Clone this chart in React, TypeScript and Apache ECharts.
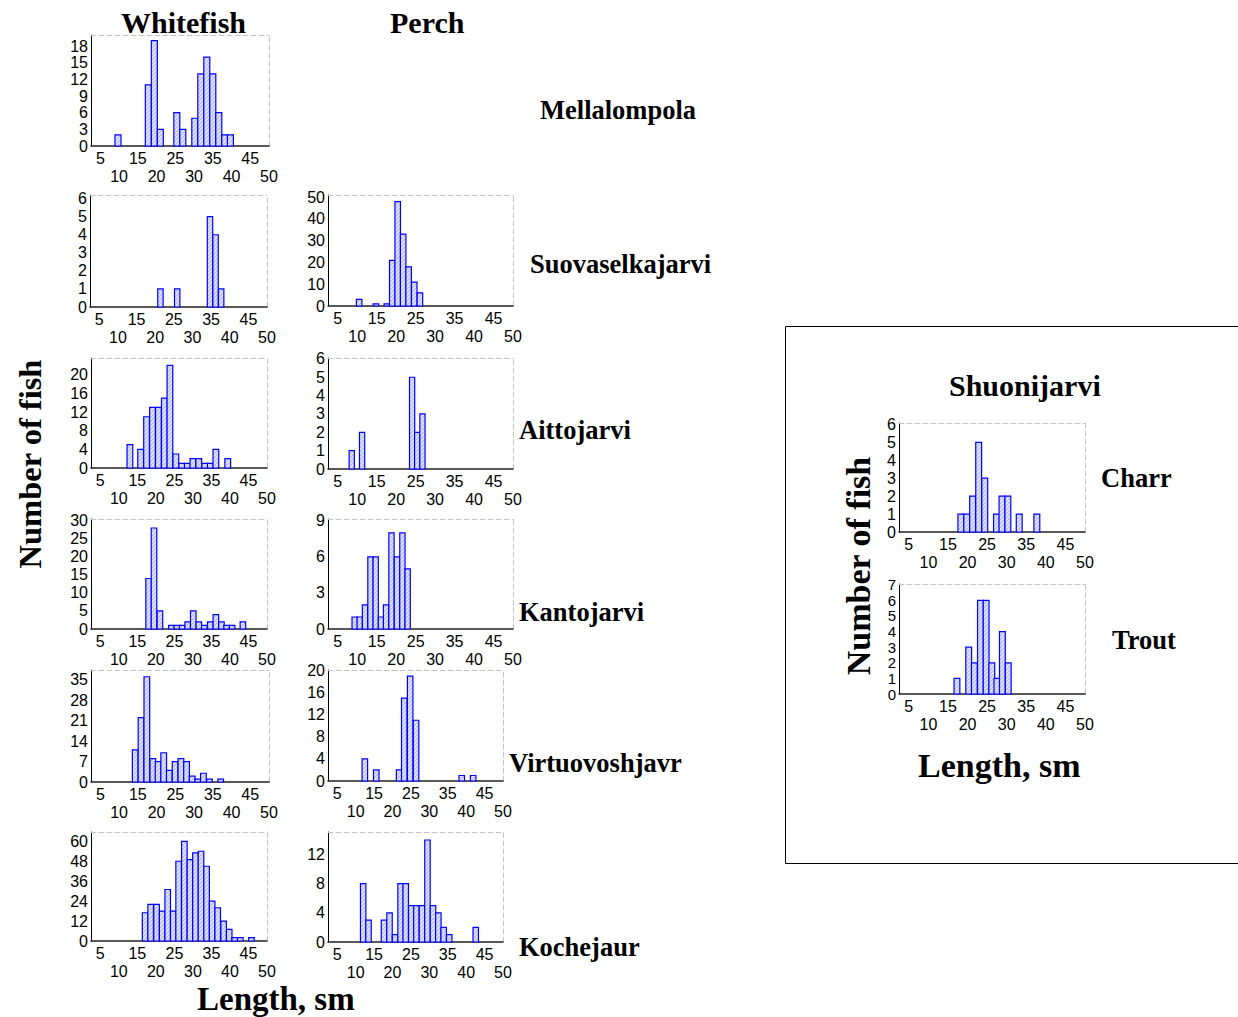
import React, { useEffect, useRef } from 'react';
import * as echarts from 'echarts';

// Length (bar centre, sm) and count per bar for every lake / species panel
const whitefishMellalompolaLength = [9.7, 17.8, 19.4, 21.0, 25.4, 27.0, 30.2, 31.8, 33.4, 35.0, 36.6, 38.2, 39.7];
const whitefishMellalompolaCount = [2, 11, 19, 3, 6, 3, 5, 13, 16, 13, 6, 2, 2];

const whitefishSuovaselkajarviLength = [21.4, 25.9, 34.7, 36.2, 37.7];
const whitefishSuovaselkajarviCount = [1, 1, 5, 4, 1];

const perchSuovaselkajarviLength = [10.5, 14.8, 17.6, 19.0, 20.4, 21.8, 23.2, 24.65, 26.1];
const perchSuovaselkajarviCount = [3, 1, 1, 21, 48, 33, 18, 11, 6];

const whitefishAittojarviLength = [13.0, 15.9, 17.5, 19.1, 20.7, 22.3, 23.8, 25.4, 27.0, 28.5, 30.0, 31.6, 33.2, 34.7, 36.2, 39.4];
const whitefishAittojarviCount = [5, 4, 11, 13, 13, 15, 22, 3, 1, 1, 2, 2, 1, 1, 4, 2];

const perchAittojarviLength = [8.6, 11.25, 24.1, 25.4, 26.75];
const perchAittojarviCount = [1, 2, 5, 2, 3];

const whitefishKantojarviLength = [18.05, 19.5, 21.1, 24.2, 25.7, 27.1, 28.6, 30.1, 31.6, 33.1, 34.7, 36.2, 37.7, 39.1, 40.6, 43.5];
const whitefishKantojarviCount = [14, 28, 5, 1, 1, 1, 2, 5, 2, 1, 2, 4, 2, 1, 1, 2];

const perchKantojarviLength = [9.35, 10.65, 12.0, 13.4, 14.75, 16.1, 17.4, 18.8, 20.2, 21.6, 22.95];
const perchKantojarviCount = [1, 1, 2, 6, 6, 1, 2, 8, 6, 8, 5];

const whitefishVirtuovoshjavrLength = [14.3, 15.85, 17.4, 19.0, 20.4, 21.9, 23.4, 24.95, 26.5, 28.0, 29.5, 31.0, 32.5, 34.1, 37.1];
const whitefishVirtuovoshjavrCount = [11, 22, 36, 8, 7, 10, 4, 7, 8, 7, 2, 1, 3, 1, 1];

const perchVirtuovoshjavrLength = [12.5, 15.6, 21.8, 23.2, 24.8, 26.4, 38.8, 41.9];
const perchVirtuovoshjavrCount = [4, 2, 2, 15, 19, 11, 1, 1];

const whitefishKochejaurLength = [17.1, 18.6, 20.2, 21.7, 23.2, 24.7, 26.15, 27.7, 29.2, 30.7, 32.2, 33.7, 35.2, 36.7, 38.3, 39.8, 41.3, 42.8, 45.8];
const whitefishKochejaurCount = [17, 22, 22, 18, 31, 18, 48, 60, 49, 53, 54, 45, 24, 20, 12, 7, 2, 2, 2];

const perchKochejaurLength = [12.05, 13.5, 17.7, 19.2, 20.7, 22.2, 23.6, 25.1, 26.5, 28.0, 29.5, 31.0, 32.45, 33.9, 35.4, 42.6];
const perchKochejaurCount = [8, 3, 3, 4, 1, 8, 8, 5, 5, 5, 14, 5, 4, 2, 1, 2];

const charrShuonijarviLength = [18.3, 19.8, 21.3, 22.85, 24.4, 27.4, 28.8, 30.3, 33.2, 37.7];
const charrShuonijarviCount = [1, 1, 2, 5, 3, 1, 2, 2, 1, 1];

const troutShuonijarviLength = [17.3, 20.3, 21.75, 23.3, 24.75, 26.2, 27.5, 28.9, 30.4];
const troutShuonijarviCount = [1, 3, 2, 6, 6, 2, 1, 4, 2];

// Tick labels
const lengthTicks = [5, 10, 15, 20, 25, 30, 35, 40, 45, 50];
const ticksBy3to18 = [0, 3, 6, 9, 12, 15, 18];
const ticks0to6 = [0, 1, 2, 3, 4, 5, 6];
const ticks0to7 = [0, 1, 2, 3, 4, 5, 6, 7];
const ticksBy10to50 = [0, 10, 20, 30, 40, 50];
const ticksBy4to20 = [0, 4, 8, 12, 16, 20];
const ticksBy5to30 = [0, 5, 10, 15, 20, 25, 30];
const ticksBy3to9 = [0, 3, 6, 9];
const ticksBy7to35 = [0, 7, 14, 21, 28, 35];
const ticksBy12to60 = [0, 12, 24, 36, 48, 60];
const ticksBy4to12 = [0, 4, 8, 12];

const LENGTH_MIN = 2.5;
const LENGTH_MAX = 50;

// Panel layout: box = [left, top, right, bottom] in page pixels
const panels = [
  { len: whitefishMellalompolaLength, cnt: whitefishMellalompolaCount, yTicks: ticksBy3to18, yMax: 20, w: 1.6, box: [91, 35, 269, 146] },
  { len: whitefishSuovaselkajarviLength, cnt: whitefishSuovaselkajarviCount, yTicks: ticks0to6, yMax: 6.2, w: 1.45, box: [90, 195, 267, 307] },
  { len: perchSuovaselkajarviLength, cnt: perchSuovaselkajarviCount, yTicks: ticksBy10to50, yMax: 51, w: 1.42, box: [328, 195, 513, 306] },
  { len: whitefishAittojarviLength, cnt: whitefishAittojarviCount, yTicks: ticksBy4to20, yMax: 23.6, w: 1.55, box: [91, 358, 267, 468] },
  { len: perchAittojarviLength, cnt: perchAittojarviCount, yTicks: ticks0to6, yMax: 6.05, w: 1.34, box: [328, 358, 513, 469] },
  { len: whitefishKantojarviLength, cnt: whitefishKantojarviCount, yTicks: ticksBy5to30, yMax: 30.5, w: 1.5, box: [91, 519, 267, 629] },
  { len: perchKantojarviLength, cnt: perchKantojarviCount, yTicks: ticksBy3to9, yMax: 9.15, w: 1.36, box: [328, 519, 513, 629] },
  { len: whitefishVirtuovoshjavrLength, cnt: whitefishVirtuovoshjavrCount, yTicks: ticksBy7to35, yMax: 38.3, w: 1.52, box: [91, 670, 269, 782] },
  { len: perchVirtuovoshjavrLength, cnt: perchVirtuovoshjavrCount, yTicks: ticksBy4to20, yMax: 20.1, w: 1.5, box: [328, 670, 503, 781] },
  { len: whitefishKochejaurLength, cnt: whitefishKochejaurCount, yTicks: ticksBy12to60, yMax: 65.6, w: 1.5, box: [91, 832, 267, 941] },
  { len: perchKochejaurLength, cnt: perchKochejaurCount, yTicks: ticksBy4to12, yMax: 15.1, w: 1.48, box: [328, 832, 503, 942] },
  { len: charrShuonijarviLength, cnt: charrShuonijarviCount, yTicks: ticks0to6, yMax: 6.08, w: 1.5, box: [899, 423, 1085, 532] },
  { len: troutShuonijarviLength, cnt: troutShuonijarviCount, yTicks: ticks0to7, yMax: 7.05, w: 1.48, box: [899, 584, 1085, 694], yFont: 15 },
];

const SERIF = '"Liberation Serif", "Times New Roman", serif';
const SANS = '"Liberation Sans", Arial, sans-serif';

// Fine diagonal hatching used as the bar fill
function makeHatch(): HTMLCanvasElement {
  const c = document.createElement('canvas');
  c.width = 4;
  c.height = 4;
  const g = c.getContext('2d')!;
  g.fillStyle = '#dadefb';
  g.fillRect(0, 0, 4, 4);
  g.strokeStyle = '#aeb4f3';
  g.lineWidth = 1;
  g.beginPath();
  g.moveTo(-1, 5);
  g.lineTo(5, -1);
  g.stroke();
  return c;
}

function title(text: string, x: number, y: number, size: number, extra: any = {}) {
  return {
    type: 'text',
    x,
    y,
    ...extra,
    style: {
      text,
      font: `bold ${size}px ${SERIF}`,
      fill: '#000',
      textAlign: extra.textAlign || 'left',
      textVerticalAlign: 'middle',
    },
  };
}

export default function App() {
  const ref = useRef<HTMLDivElement>(null);

  useEffect(() => {
    if (!ref.current) return;
    const chart = echarts.init(ref.current, undefined, { renderer: 'svg' });
    const hatch = makeHatch();

    const grid: any[] = [];
    const xAxis: any[] = [];
    const yAxis: any[] = [];
    const series: any[] = [];

    panels.forEach((p: any, i) => {
      const [l, t, r, b] = p.box;
      grid.push({ left: l, top: t, width: r - l, height: b - t, containLabel: false });
      xAxis.push({
        type: 'value',
        gridIndex: i,
        position: 'bottom',
        min: LENGTH_MIN,
        max: LENGTH_MAX,
        axisLine: { onZero: false, lineStyle: { color: '#222', width: 1.5 } },
        axisTick: { show: false },
        splitLine: { show: false },
        axisLabel: {
          customValues: lengthTicks,
          formatter: (v: number) => (v % 10 === 0 ? '\n' + v : String(v)),
          color: '#000',
          fontSize: 16,
          fontFamily: SANS,
          lineHeight: 18.5,
          margin: 3,
          hideOverlap: false,
          interval: 0,
        },
      });
      xAxis.push({
        type: 'value',
        gridIndex: i,
        position: 'top',
        min: LENGTH_MIN,
        max: LENGTH_MAX,
        axisLine: { onZero: false, lineStyle: { color: '#c4c4c4', width: 1, type: [5, 3] } },
        axisTick: { show: false },
        axisLabel: { show: false },
        splitLine: { show: false },
      });
      yAxis.push({
        type: 'value',
        gridIndex: i,
        position: 'left',
        min: 0,
        max: p.yMax,
        axisLine: { show: true, onZero: false, lineStyle: { color: '#000', width: 1 } },
        axisTick: { show: false },
        splitLine: { show: false },
        axisLabel: {
          customValues: p.yTicks,
          color: '#000',
          fontSize: p.yFont || 16,
          lineHeight: 11,
          fontFamily: SANS,
          margin: 3,
          hideOverlap: false,
          interval: 0,
          showMinLabel: true,
          showMaxLabel: true,
        },
      });
      yAxis.push({
        type: 'value',
        gridIndex: i,
        position: 'right',
        min: 0,
        max: p.yMax,
        axisLine: { show: true, onZero: false, lineStyle: { color: '#c4c4c4', width: 1, type: [5, 3] } },
        axisTick: { show: false },
        axisLabel: { show: false },
        splitLine: { show: false },
      });
      const halfW = p.w / 2;
      series.push({
        type: 'custom',
        coordinateSystem: 'cartesian2d',
        xAxisIndex: i * 2,
        yAxisIndex: i * 2,
        data: p.len.map((x: number, k: number) => [x, p.cnt[k]]),
        renderItem: (_params: any, api: any) => {
          const x = api.value(0);
          const y = api.value(1);
          const p0 = api.coord([x - halfW, y]);
          const p1 = api.coord([x + halfW, 0]);
          return {
            type: 'rect',
            shape: { x: p0[0], y: p0[1], width: p1[0] - p0[0], height: p1[1] - p0[1] },
            style: {
              fill: { image: hatch, repeat: 'repeat' },
              stroke: '#0000ff',
              lineWidth: 1.2,
            },
          };
        },
      });
    });

    const graphic: any[] = [
      title('Whitefish', 121, 22, 30),
      title('Perch', 390, 22, 30),
      title('Mellalompola', 540, 110, 26.5),
      title('Suovaselkajarvi', 530, 264, 26.5),
      title('Aittojarvi', 519, 430, 26.5),
      title('Kantojarvi', 519, 612, 26.5),
      title('Virtuovoshjavr', 509, 763, 26.5),
      title('Kochejaur', 519, 947, 26.5),
      title('Number of fish', 30, 464, 32.5, { rotation: Math.PI / 2, textAlign: 'center' }),
      title('Length, sm', 197, 999, 33),
      {
        type: 'rect',
        shape: { x: 785.5, y: 326.5, width: 470, height: 537 },
        style: { fill: 'none', stroke: '#000', lineWidth: 1 },
      },
      title('Shuonijarvi', 949, 385, 30),
      title('Charr', 1101, 478, 26.5),
      title('Trout', 1112, 640, 26.5),
      title('Number of fish', 858, 566, 34, { rotation: Math.PI / 2, textAlign: 'center' }),
      title('Length, sm', 918, 765, 34),
    ];

    chart.setOption({
      animation: false,
      backgroundColor: '#fff',
      grid,
      xAxis,
      yAxis,
      series,
      graphic,
    });

    return () => chart.dispose();
  }, []);

  return (
    <div
      ref={ref}
      style={{ position: 'absolute', left: 0, top: 0, width: 1238, height: 1017 }}
    />
  );
}
